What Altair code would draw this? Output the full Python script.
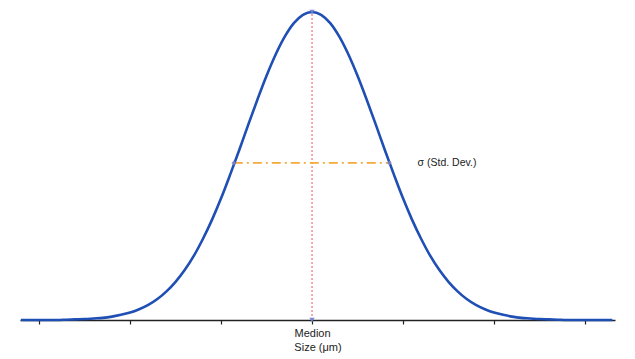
import altair as alt
import pandas as pd

# Curve samples (x in tick units, median = 0; y as % of peak)
size_x = [-3.2, -3.1, -3.0, -2.9, -2.8, -2.7, -2.6, -2.5, -2.4, -2.3, -2.2, -2.1,
          -2.0, -1.9, -1.8, -1.7, -1.6, -1.5, -1.4, -1.3, -1.2, -1.1, -1.0, -0.9,
          -0.8, -0.7, -0.6, -0.5, -0.4, -0.3, -0.2, -0.1, 0.0,
          0.1, 0.2, 0.3, 0.4, 0.5, 0.6, 0.7, 0.8, 0.9, 1.0, 1.1, 1.2, 1.3, 1.4,
          1.5, 1.6, 1.7, 1.8, 1.9, 2.0, 2.1, 2.2, 2.3, 2.4, 2.5, 2.6, 2.7, 2.8,
          2.9, 3.0, 3.1, 3.2, 3.3]
density = [0, 0, 0, 0, 0, 0.1, 0.2, 0.3, 0.5, 0.7, 1.1, 1.7,
           2.4, 3.5, 4.9, 6.8, 9.3, 12.4, 16.2, 20.8, 26.3, 32.5, 39.5, 47.2,
           55.2, 63.5, 71.6, 79.3, 86.2, 92.0, 96.4, 99.1, 100,
           99.1, 96.4, 92.0, 86.2, 79.3, 71.6, 63.5, 55.2, 47.2, 39.5, 32.5, 26.3, 20.8, 16.2,
           12.4, 9.3, 6.8, 4.9, 3.5, 2.4, 1.7, 1.1, 0.7, 0.5, 0.3, 0.2, 0.1, 0,
           0, 0, 0, 0, 0]

tick_values = [-3, -2, -1, 0, 1, 2, 3]
median_label = "Medion"
axis_title = "Size (μm)"

sigma_left = -0.86
sigma_right = 0.85
sigma_level = 51.0
sigma_label = "σ (Std. Dev.)"
peak = 100

curve_df = pd.DataFrame({"x": size_x, "y": density})

FONT = "Liberation Sans"

xscale = alt.Scale(domain=[-3.21, 3.33], nice=False, zero=False)
yscale = alt.Scale(domain=[0, 100], nice=False, zero=False)
xaxis = alt.Axis(values=tick_values, title=axis_title,
                 labelExpr="datum.value == 0 ? '" + median_label + "' : ''",
                 domainColor="#222222", domainWidth=1.5,
                 tickColor="#222222", tickSize=4, tickWidth=1.2,
                 labelFont=FONT, labelFontSize=11, labelColor="#222222",
                 labelPadding=3,
                 titleFont=FONT, titleFontSize=11, titleFontWeight="normal",
                 titleColor="#222222", titlePadding=3, grid=False)


def X(f="x"):
    return alt.X(f + ":Q", scale=xscale, axis=xaxis)


def Y(f="y"):
    return alt.Y(f + ":Q", scale=yscale, axis=None)


curve = alt.Chart(curve_df).mark_line(
    color="#1f4fb4", strokeWidth=2.6, interpolate="monotone"
).encode(x=X(), y=Y())

median_df = pd.DataFrame({"x": [0], "y": [0], "y2": [peak]})
median_rule = alt.Chart(median_df).mark_rule(
    color="#ee5560", strokeWidth=1, strokeDash=[2, 2]
).encode(x=X(), y=Y(), y2="y2:Q")

sigma_df = pd.DataFrame({"x": [sigma_left], "x2": [sigma_right], "y": [sigma_level]})
sigma_rule = alt.Chart(sigma_df).mark_rule(
    color="#f5a93a", strokeWidth=1.8, strokeDash=[9, 4, 2, 4]
).encode(x=X(), x2="x2:Q", y=Y())

sigma_pts_df = pd.DataFrame({"x": [sigma_left, sigma_right], "y": [sigma_level, sigma_level]})
sigma_pts = alt.Chart(sigma_pts_df).mark_point(
    shape="diamond", filled=True, size=22, color="#7f7fc8", opacity=0.9
).encode(x=X(), y=Y())

tri_df = pd.DataFrame({"x": [0, 0], "y": [0, peak]})
triangles = alt.Chart(tri_df).mark_point(
    shape="triangle-down", filled=True, size=30, color="#6f7fcf", opacity=0.9
).encode(x=X(), y=Y())

label_df = pd.DataFrame({"x": [1.16], "y": [sigma_level], "t": [sigma_label]})
label = alt.Chart(label_df).mark_text(
    align="left", baseline="middle", font=FONT, fontSize=10.5, color="#222222"
).encode(x=X(), y=Y(), text="t:N")

chart = alt.layer(
    median_rule, sigma_rule, curve, sigma_pts, triangles, label
).properties(
    width=595, height=308,
    background="white",
    autosize=alt.AutoSizeParams(type="none"),
    padding={"left": 12, "top": 4, "right": 10, "bottom": 36},
).configure_view(stroke=None)

chart.save("out.html", embed_options={"renderer": "svg", "actions": False})
